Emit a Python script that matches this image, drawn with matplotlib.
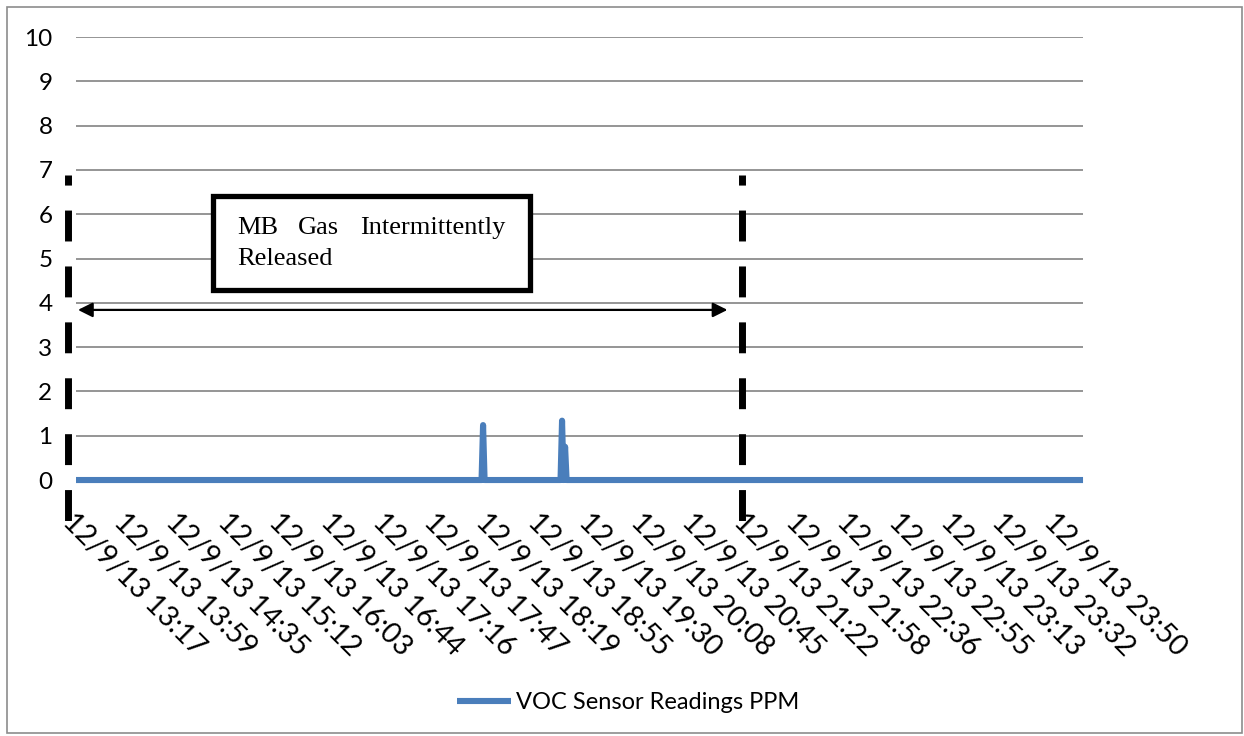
import matplotlib.pyplot as plt
import matplotlib.transforms as mtransforms
from matplotlib.patches import Rectangle

# category labels (time of day on 12/9/13), one label every 34 readings
times = ['13:17', '13:59', '14:35', '15:12', '16:03', '16:44', '17:16',
         '17:47', '18:19', '18:55', '19:30', '20:08', '20:45', '21:22',
         '21:58', '22:36', '22:55', '23:13', '23:32', '23:50']
tick_labels = ['12/9/13 ' + t for t in times]
n_points = 664
label_step = 34

# readings are 0 ppm except for a few spikes
spike_index = [268, 320, 322]
spike_ppm = [1.24, 1.34, 0.75]

ppm = [0.0] * n_points
for i, v in zip(spike_index, spike_ppm):
    ppm[i] = v

# release window markers (category positions) and arrow height
window_start = -5.0
window_end = 438.7
arrow_y = 3.84

sans = 'Lato'
serif = 'Liberation Serif'

fig = plt.figure(figsize=(12.44, 7.36), dpi=100)
ax = fig.add_axes([0.0611, 0.3478, 0.8095, 0.6019])

line, = ax.plot(range(n_points), ppm, color='#4a7ebb', lw=4.4,
                solid_joinstyle='round', solid_capstyle='butt',
                clip_on=False, zorder=3, label='VOC Sensor Readings PPM')

ax.set_xlim(0, n_points - 1)
ax.set_ylim(0, 10)
ax.set_yticks(range(0, 11))
ax.set_xticks(range(0, n_points, label_step))
ax.set_xticklabels(tick_labels, rotation=-45, ha='left', va='top',
                   rotation_mode='anchor', fontsize=20.5, family=sans)
# nudge the rotated labels a little right/up like the original
shift = mtransforms.ScaledTranslation(0.06, 0.03, fig.dpi_scale_trans)
for lab in ax.get_xticklabels():
    lab.set_transform(lab.get_transform() + shift)
for lab in ax.get_yticklabels():
    lab.set_family(sans)
    lab.set_fontsize(17.5)
ax.tick_params(axis='both', length=0)
ax.tick_params(axis='x', pad=21)
ax.tick_params(axis='y', pad=17)
ax.yaxis.grid(True, color='#8c8c8c', lw=1.3)
ax.set_axisbelow(True)
for s in ax.spines.values():
    s.set_visible(False)

# dashed vertical markers
for xv in [window_start, window_end]:
    ax.plot([xv, xv], [6.88, -0.95], color='black', lw=5,
            linestyle=(3.0, (4.45, 3.6)), dash_capstyle='butt',
            clip_on=False, zorder=4)

# double-headed arrow across the release window
ax.annotate('', xy=(428.9, arrow_y), xytext=(1.3, arrow_y),
            arrowprops=dict(arrowstyle='<|-|>', color='black', lw=1.6,
                            mutation_scale=22, shrinkA=0, shrinkB=0),
            annotation_clip=False, zorder=5)

# text box
ax.add_patch(Rectangle((90.2, 4.29), 208.9, 2.12, facecolor='white',
                       edgecolor='black', lw=3.8, clip_on=False, zorder=5))
ax.text(106.1, 5.69, 'MB', family=serif, fontsize=19, va='center', zorder=6)
ax.text(146.2, 5.69, 'Gas', family=serif, fontsize=19, va='center', zorder=6)
ax.text(282.6, 5.69, 'Intermittently', family=serif, fontsize=19,
        va='center', ha='right', zorder=6)
ax.text(106.1, 4.99, 'Released', family=serif, fontsize=19, va='center', zorder=6)

fig.legend(handles=[line], loc='center', bbox_to_anchor=(0.505, 0.045),
           frameon=False, handlelength=2.3, handletextpad=0.2,
           prop={'family': sans, 'size': 17})

# outer chart border
fig.add_artist(Rectangle((0.0056, 0.004), 0.9925, 0.9865, transform=fig.transFigure,
                         fill=False, edgecolor='#8c8c8c', lw=1.2))

fig.savefig('out.png', dpi=100)
